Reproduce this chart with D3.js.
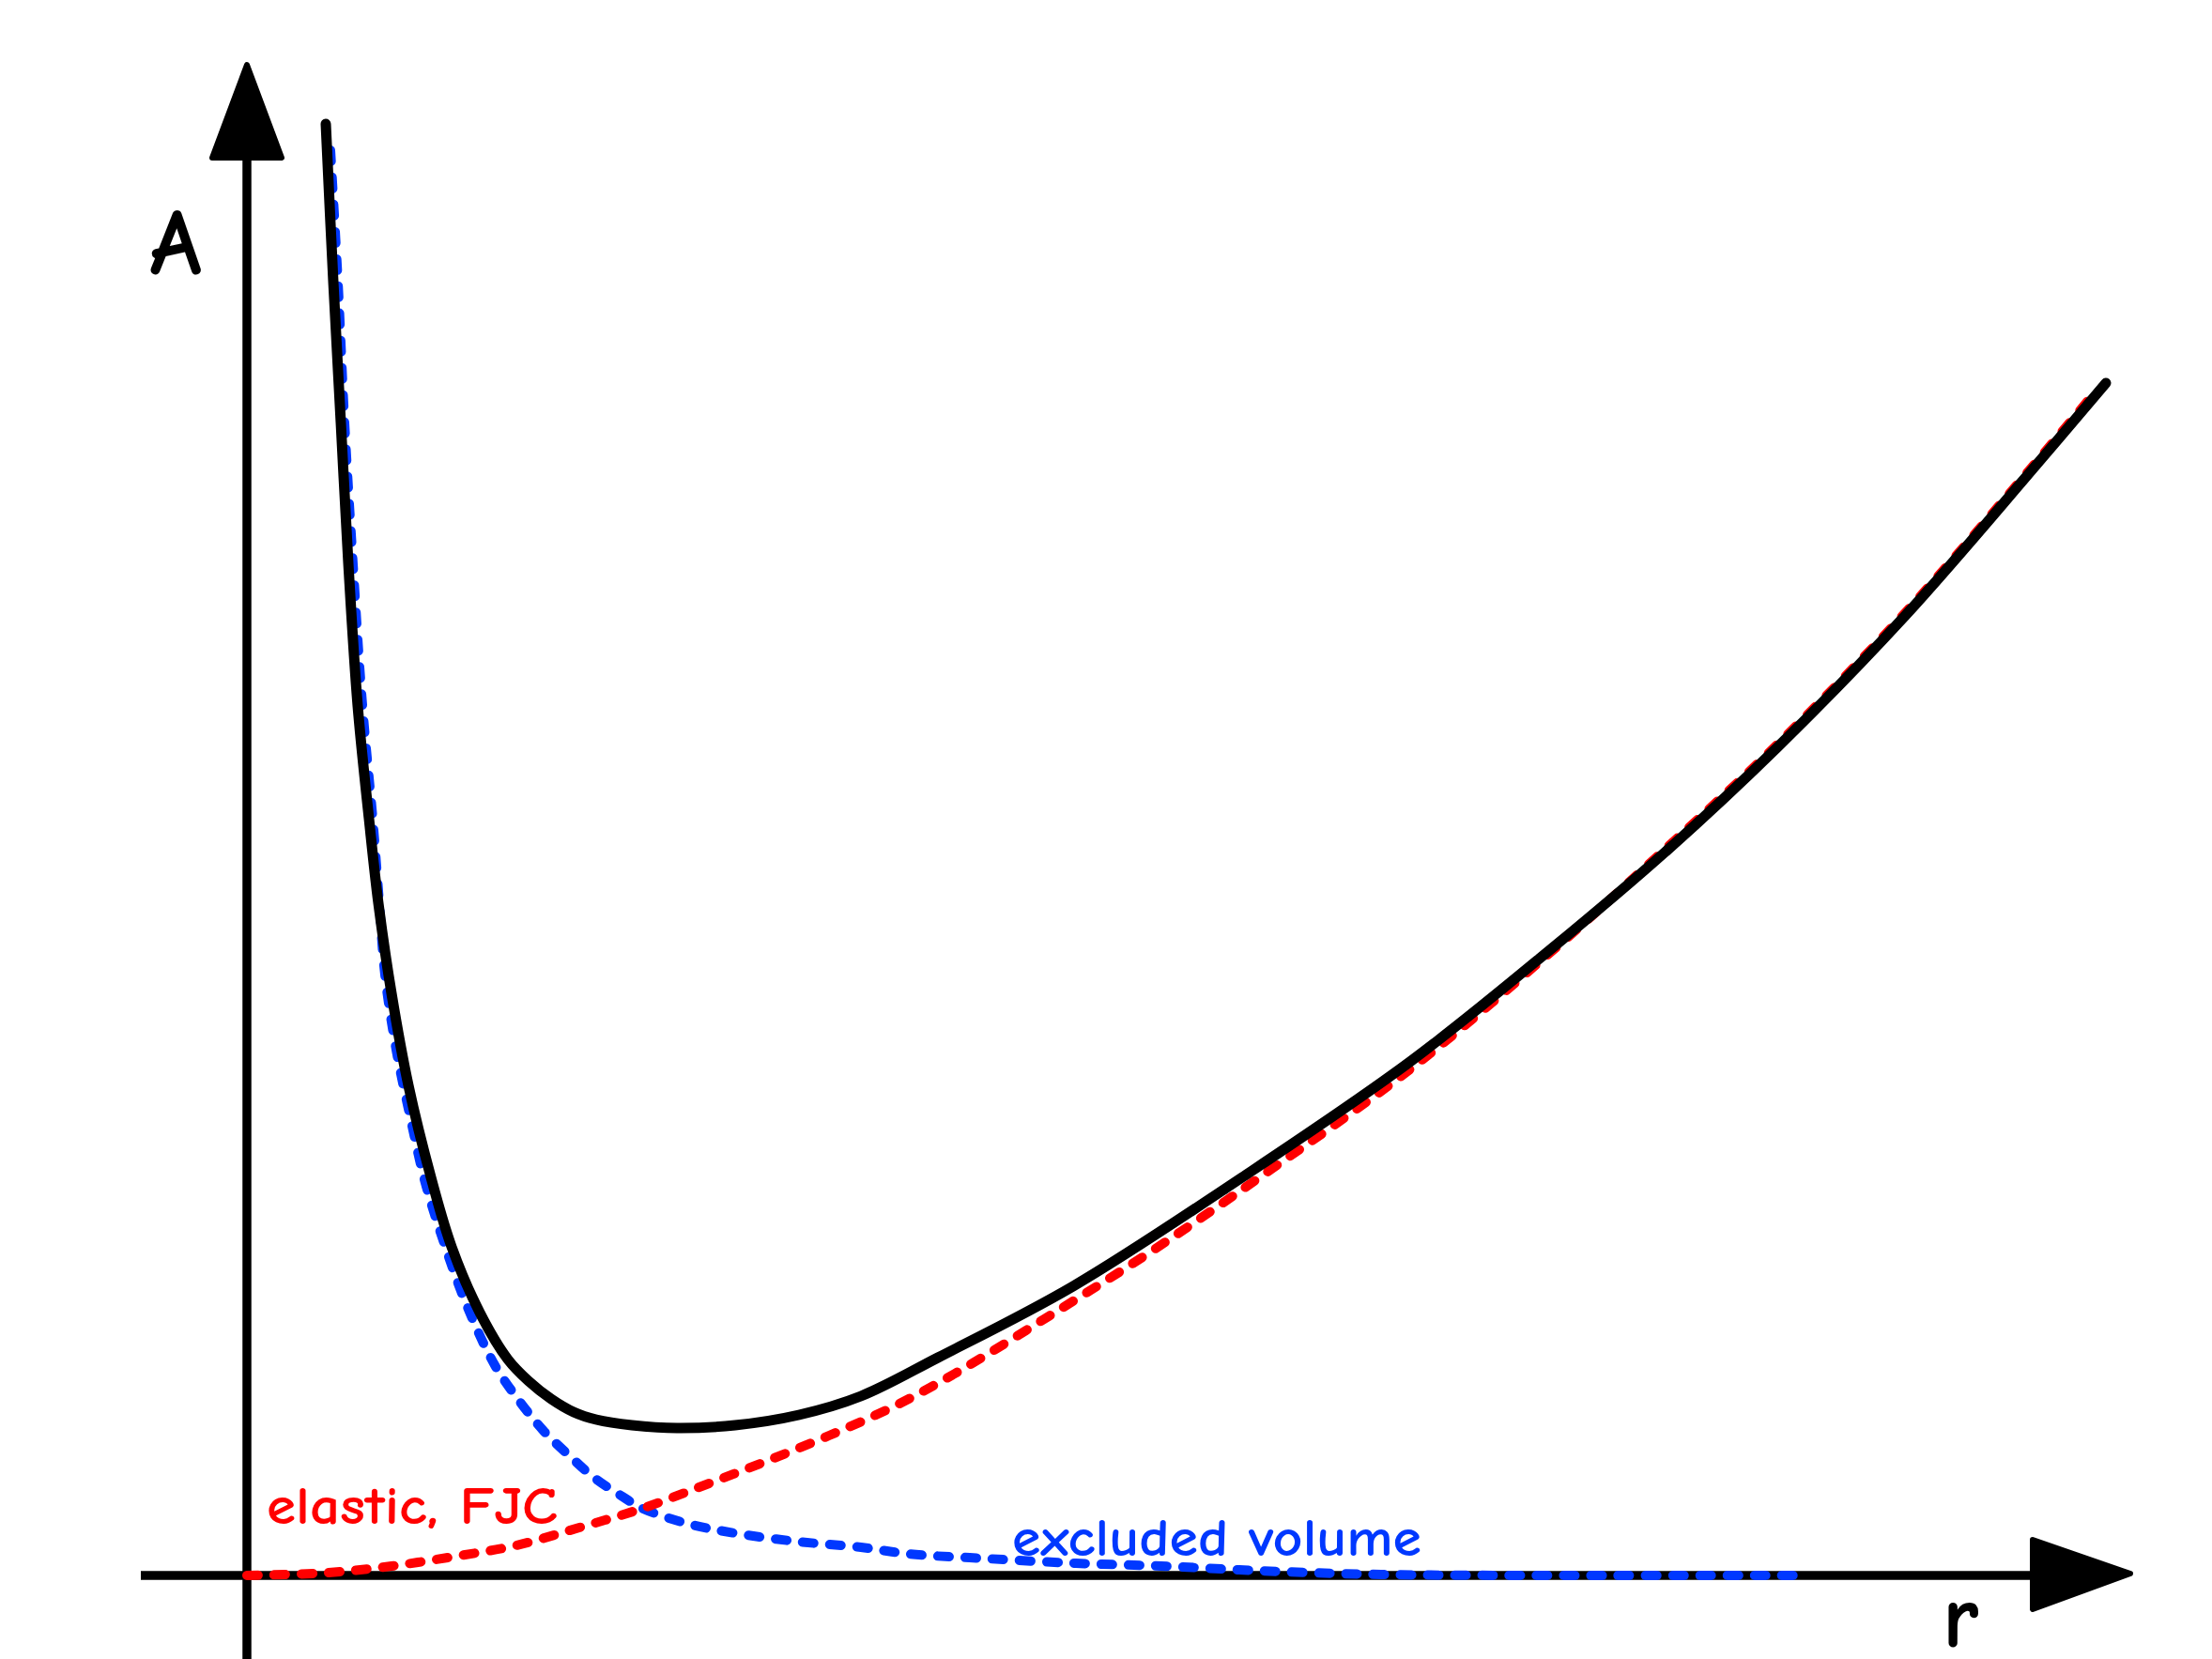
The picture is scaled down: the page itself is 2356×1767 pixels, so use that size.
<!DOCTYPE html>
<html>
<head>
<meta charset="utf-8">
<script src="https://cdn.jsdelivr.net/npm/d3@7"></script>
<style>
  html, body { margin: 0; padding: 0; background: #ffffff; }
  svg { display: block; }
  text { font-family: "Comic Sans MS", "Comic Neue", "Lato", "Noto Sans", sans-serif; }
</style>
</head>
<body>
<svg id="chart" width="2356" height="1767"></svg>
<script>
// ---- data (arbitrary units) ----
const totalR = [0.42,0.46,0.50,0.54,0.59,0.65,0.70,0.77,0.86,0.98,1.09,1.24,1.39,1.50,1.62,1.74,1.86,2.05,2.29,2.60,2.94,3.27,3.68,4.40,5.30,6.20,6.95,7.55,8.15,8.83,9.50,9.90];
const totalA = [7.73,6.89,6.14,5.39,4.63,4.03,3.58,3.10,2.61,2.12,1.75,1.40,1.15,1.035,0.94,0.87,0.83,0.80,0.785,0.80,0.855,0.955,1.16,1.54,2.12,2.74,3.34,3.85,4.41,5.11,5.88,6.35];

const elasticR = [0.0,0.435,0.77,1.10,1.435,1.77,2.10,2.435,2.77,3.10,3.435,3.77,4.27,4.815,5.40,6.20,6.95,7.55,8.15,8.83,9.50,9.85];
const elasticA = [0.0,0.015,0.05,0.10,0.16,0.255,0.355,0.48,0.61,0.745,0.895,1.075,1.38,1.725,2.125,2.70,3.325,3.865,4.425,5.125,5.895,6.31];

const excludedR = [0.445,0.485,0.52,0.565,0.615,0.67,0.705,0.735,0.795,0.87,0.95,1.05,1.17,1.32,1.45,1.58,1.72,1.85,2.00,2.10,2.35,2.60,2.935,3.27,3.52,3.935,4.415,4.87,5.285,5.66,6.04,6.81,8.265];
const excludedA = [7.59,6.885,6.14,5.385,4.635,4.03,3.58,3.20,2.80,2.44,2.09,1.77,1.44,1.12,0.93,0.77,0.635,0.52,0.42,0.36,0.275,0.225,0.18,0.15,0.115,0.09,0.065,0.05,0.03,0.015,0.005,0.0,0.0];

const axisLabels = ["A", "r"];
const curveLabels = ["elastic, FJC", "excluded volume"];

// ---- layout ----
const svg = d3.select("#chart");
const x = d3.scaleLinear().domain([0, 10]).range([263, 2263]);
const y = d3.scaleLinear().domain([0, 8]).range([1678, 78]);

const BLACK = "#000000", RED = "#ff0000", BLUE = "#0038ff";

// axes
const axes = svg.append("g");
axes.append("line")
  .attr("x1", x(-0.565)).attr("x2", x(9.55))
  .attr("y1", y(0)).attr("y2", y(0))
  .attr("stroke", BLACK).attr("stroke-width", 9.5);
axes.append("line")
  .attr("x1", x(0)).attr("x2", x(0))
  .attr("y1", 1767).attr("y2", y(7.55))
  .attr("stroke", BLACK).attr("stroke-width", 9.5);

// arrow heads
const xa = x(9.51), ya = y(0);
axes.append("path")
  .attr("d", `M${xa},${ya - 38} L${xa + 104},${ya - 2} L${xa},${ya + 36} Z`)
  .attr("fill", BLACK).attr("stroke", BLACK).attr("stroke-width", 6).attr("stroke-linejoin", "round");
const xb = x(0), yb = y(7.55);
axes.append("path")
  .attr("d", `M${xb - 37},${yb} L${xb},${yb - 99} L${xb + 37},${yb} Z`)
  .attr("fill", BLACK).attr("stroke", BLACK).attr("stroke-width", 6).attr("stroke-linejoin", "round");

// axis labels
axes.append("text").text(axisLabels[0])
  .attr("x", 187).attr("y", 292)
  .attr("text-anchor", "middle")
  .attr("font-size", 100).attr("font-weight", "bold")
  .attr("fill", BLACK);
axes.append("text").text(axisLabels[1])
  .attr("x", 2088).attr("y", 1754)
  .attr("text-anchor", "middle")
  .attr("font-size", 96).attr("font-weight", "bold")
  .attr("fill", BLACK);

// curves
const line = d3.line()
  .x(d => x(d[0])).y(d => y(d[1]))
  .curve(d3.curveCatmullRom.alpha(0.5));

const zip = (a, b) => a.map((v, i) => [v, b[i]]);

svg.append("path")
  .datum(zip(excludedR, excludedA))
  .attr("d", line)
  .attr("fill", "none").attr("stroke", BLUE).attr("stroke-width", 10)
  .attr("stroke-linecap", "round").attr("stroke-dasharray", "12,17");

svg.append("path")
  .datum(zip(elasticR, elasticA))
  .attr("d", line)
  .attr("fill", "none").attr("stroke", RED).attr("stroke-width", 10)
  .attr("stroke-linecap", "round").attr("stroke-dasharray", "12,17");

svg.append("path")
  .datum(zip(totalR, totalA))
  .attr("d", line)
  .attr("fill", "none").attr("stroke", BLACK).attr("stroke-width", 11)
  .attr("stroke-linecap", "round").attr("stroke-linejoin", "round");

// curve labels
svg.append("text").text(curveLabels[0])
  .attr("x", 284).attr("y", 1623)
  .attr("font-size", 56).attr("font-weight", "bold")
  .attr("textLength", 310).attr("lengthAdjust", "spacingAndGlyphs")
  .attr("fill", RED);
svg.append("text").text(curveLabels[1])
  .attr("x", 1078).attr("y", 1657)
  .attr("font-size", 56).attr("font-weight", "bold")
  .attr("textLength", 436).attr("lengthAdjust", "spacingAndGlyphs")
  .attr("fill", BLUE);
</script>
</body>
</html>
